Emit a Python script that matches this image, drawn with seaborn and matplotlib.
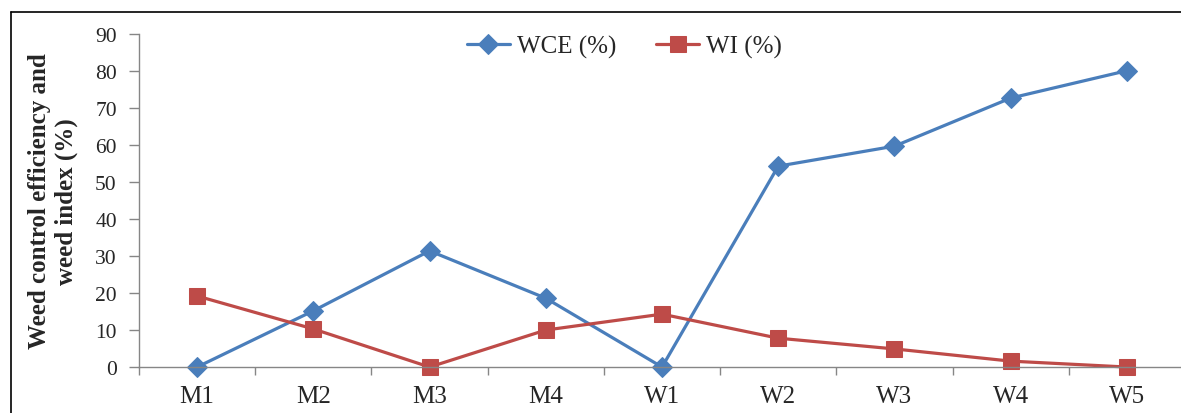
import numpy as np
import pandas as pd
import seaborn as sns
import matplotlib.pyplot as plt
from matplotlib.lines import Line2D
from matplotlib.ticker import FixedLocator

# Data
treatments = ['M1', 'M2', 'M3', 'M4', 'W1', 'W2', 'W3', 'W4', 'W5']
wce = [0.0, 15.2, 31.4, 18.6, 0.0, 54.3, 59.7, 72.7, 80.1]
wi = [19.2, 10.3, 0.0, 10.0, 14.3, 7.8, 4.9, 1.6, 0.0]

df = pd.DataFrame({'Treatment': treatments, 'WCE (%)': wce, 'WI (%)': wi})

sns.set_style('white')
plt.rcParams['font.family'] = ['Liberation Serif', 'DejaVu Serif']

fig = plt.figure(figsize=(11.81, 4.14), dpi=100)
ax = fig.add_axes([0.1177, 0.111, 0.8857, 0.8043])

blue = '#4A7EBB'
red = '#BE4B48'

sns.lineplot(data=df, x='Treatment', y='WCE (%)', ax=ax, color=blue,
             marker='D', markersize=10, markeredgecolor=blue,
             linewidth=2.3, sort=False, label='WCE (%)', legend=False,
             clip_on=False)
sns.lineplot(data=df, x='Treatment', y='WI (%)', ax=ax, color=red,
             marker='s', markersize=11, markeredgecolor=red,
             linewidth=2.3, sort=False, label='WI (%)', legend=False,
             clip_on=False)

ax.set_xlim(-0.5, len(treatments) - 0.5)
ax.set_ylim(0, 90)
ax.set_yticks(np.arange(0, 91, 10))
ax.tick_params(axis='y', labelsize=15.5, length=7, width=1, color='#868686',
               left=True, direction='out', pad=9)
ax.tick_params(axis='x', which='major', labelsize=18, length=0, pad=13)
# tick marks between categories
ax.xaxis.set_minor_locator(FixedLocator(np.arange(-0.5, len(treatments) - 1, 1)))
ax.tick_params(axis='x', which='minor', length=6, width=1, color='#868686',
               bottom=True, direction='out')

for side in ['top', 'right']:
    ax.spines[side].set_visible(False)
for side in ['left', 'bottom']:
    ax.spines[side].set_color('#868686')
    ax.spines[side].set_linewidth(1)

ax.set_xlabel('')
ax.set_ylabel('Weed control efficiency and\nweed index (%)', fontsize=18,
              fontweight='bold', labelpad=12, linespacing=1.2)

handles, labels = ax.get_legend_handles_labels()
fig.legend(handles, labels, loc='center', bbox_to_anchor=(0.529, 0.886),
           ncol=2, frameon=False, fontsize=18, columnspacing=1.6,
           handlelength=1.7, handletextpad=0.3)

# outer chart border: only the left and top edges are inside the image
x0 = 11 / 1181
y0 = 1 - 13 / 414
fig.lines.append(Line2D([x0, x0], [0, y0], transform=fig.transFigure,
                        color='black', linewidth=1.2))
fig.lines.append(Line2D([x0, 1.0], [y0, y0], transform=fig.transFigure,
                        color='black', linewidth=1.2))

fig.savefig('out.png', dpi=100)
